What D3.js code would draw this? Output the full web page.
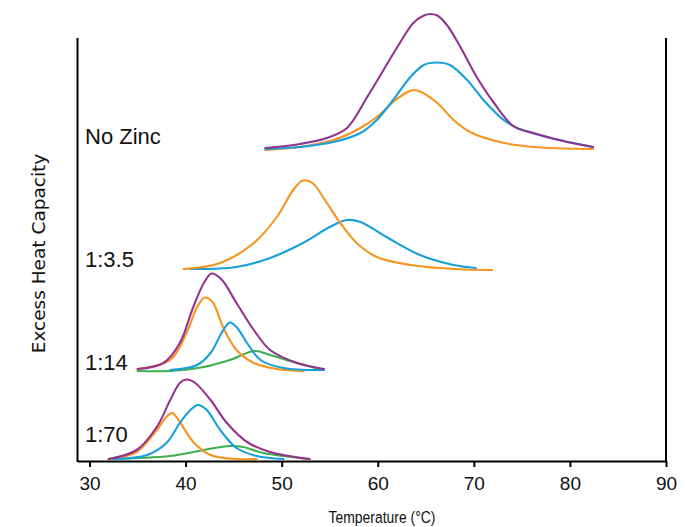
<!DOCTYPE html>
<html><head><meta charset="utf-8">
<script src="https://cdn.jsdelivr.net/npm/d3@7/dist/d3.min.js"></script>
<style>body{margin:0;background:#fff} svg{display:block}</style>
</head><body>
<svg id="chart" width="685" height="527"></svg>
<script>
// ---- data (temperature °C, excess heat capacity in arbitrary stacked units) ----
const xTicks = [30, 40, 50, 60, 70, 80, 90];
const groupLabels = ["No Zinc", "1:3.5", "1:14", "1:70"];
const groupLabelLevels = [317, 194, 91, 19];

const noZincPurple = [[48.3,313],[51.9,317],[54.7,323],[56.8,333],[58.9,364],[60.6,391],[62.3,418],[63.7,438],[64.8,445.5],[65.5,447],[66.2,445.5],[67.2,436],[68.6,414],[70.3,384],[72.1,358],[74.1,335],[76.2,328],[79.7,319],[82.4,314]];
const noZincBlue = [[48.3,312],[51.9,314],[55.4,319],[58.2,328],[59.9,341],[61.6,361],[63.4,384],[64.8,396],[66.1,398.5],[67.5,396],[69.3,381],[71.0,361],[73.1,341],[74.5,333],[78.0,323],[82.4,314]];
const noZincOrange = [[48.3,311],[51.9,314],[55.4,321],[58.2,333],[59.9,344],[61.6,359],[63.0,368.5],[63.7,371],[64.4,369.5],[66.2,358],[67.9,341],[69.6,329],[72.7,319],[76.2,314],[82.4,312]];

const r35Orange = [[39.8,192],[43.6,198],[47.1,218],[49.5,244],[51.2,271],[52.2,280.5],[53.2,278],[54.7,258],[56.1,238],[57.8,218],[59.9,204],[63.4,196],[67.9,192],[71.9,191]];
const r35Blue = [[40.4,192],[45.3,194],[48.8,203],[52.2,218],[55.0,234],[56.8,241],[58.2,239],[60.9,224],[64.4,206],[67.9,196],[70.2,193]];

const r14Purple = [[35.0,92],[37.7,98],[39.4,118],[40.8,154],[41.9,178],[42.7,187.5],[43.7,182],[45.3,158],[47.1,131],[48.8,111],[51.6,98],[54.4,92]];
const r14Orange = [[35.0,92],[38.4,101],[40.1,128],[41.2,154],[42.0,163.5],[42.8,159],[43.9,134],[45.3,111],[47.1,98],[49.5,92],[52.3,90]];
const r14Blue = [[38.4,91],[41.2,96],[42.6,108],[43.8,129],[44.6,138.5],[45.3,134],[46.4,118],[47.8,101],[50.2,93],[54.4,91]];
const r14Green = [[35.0,90],[38.4,90],[41.9,94],[44.6,101],[47.2,110],[48.8,106],[51.6,98],[54.4,91]];

const r70Purple = [[32.0,2],[34.9,11],[37.0,34],[38.4,61],[39.4,78],[40.1,81.5],[41.0,78],[42.6,61],[44.3,38],[46.4,19],[48.8,9],[52.9,2]];
const r70Orange = [[32.0,2],[34.9,9],[37.0,31],[38.0,44],[38.6,48],[39.4,39],[40.8,19],[42.6,6],[45.3,2],[47.4,2]];
const r70Blue = [[32.5,2],[36.0,6],[38.0,18],[39.4,38],[40.5,51],[41.3,56],[42.2,51],[43.6,31],[45.3,13],[47.4,5],[50.2,2]];
const r70Green = [[32.0,2],[38.4,5],[41.9,11],[44.6,15],[46.0,14],[48.1,8],[52.9,2]];

const colors = {purple: "#94348f", blue: "#16a0db", orange: "#f7941e", green: "#3fae4a"};
const curves = [
  {d: noZincOrange, c: "orange"}, {d: noZincBlue, c: "blue"}, {d: noZincPurple, c: "purple"},
  {d: r35Blue, c: "blue"}, {d: r35Orange, c: "orange"},
  {d: r14Green, c: "green"}, {d: r14Orange, c: "orange"}, {d: r14Blue, c: "blue"}, {d: r14Purple, c: "purple"},
  {d: r70Green, c: "green"}, {d: r70Orange, c: "orange"}, {d: r70Blue, c: "blue"}, {d: r70Purple, c: "purple"}
];

// ---- layout ----
const svg = d3.select("#chart");
const mLeft = 77.5, mRight = 666, mTop = 38, mBottom = 461;
const x = d3.scaleLinear().domain([28.75, 90]).range([mLeft, mRight]);
const y = d3.scaleLinear().domain([0, 423]).range([mBottom, mTop]);

const line = d3.line().x(d => x(d[0])).y(d => y(d[1])).curve(d3.curveCatmullRom.alpha(0.5));

svg.append("g").selectAll("path").data(curves).join("path")
  .attr("d", d => line(d.d))
  .attr("fill", "none")
  .attr("stroke", d => colors[d.c])
  .attr("stroke-width", 2.1)
  .attr("stroke-linejoin", "round")
  .attr("stroke-linecap", "round");

// frame: left and right verticals
svg.append("line").attr("x1", mLeft).attr("x2", mLeft).attr("y1", mTop).attr("y2", mBottom + 1)
  .attr("stroke", "#000").attr("stroke-width", 2);
svg.append("line").attr("x1", mRight).attr("x2", mRight).attr("y1", mTop).attr("y2", mBottom + 1)
  .attr("stroke", "#000").attr("stroke-width", 2);

// bottom axis
const xAxis = d3.axisBottom(x).tickValues(xTicks).tickSizeInner(6).tickSizeOuter(0).tickPadding(10);
const gx = svg.append("g").attr("transform", `translate(0,${mBottom})`).call(xAxis);
gx.select(".domain").attr("stroke", "#000").attr("stroke-width", 2);
gx.selectAll(".tick line").attr("stroke", "#000").attr("stroke-width", 2);
gx.selectAll(".tick text").attr("font-family", "'Liberation Sans', Arial, sans-serif")
  .attr("font-size", 19).attr("fill", "#111");

// axis titles
svg.append("text").attr("transform", "translate(382,523) scale(0.82,1)")
  .attr("text-anchor", "middle")
  .attr("font-family", "'Liberation Sans', Arial, sans-serif")
  .attr("font-size", 17).attr("fill", "#111")
  .text("Temperature (°C)");

svg.append("text").attr("transform", `translate(45,${(mTop + mBottom) / 2 + 4}) rotate(-90)`)
  .attr("text-anchor", "middle")
  .attr("font-family", "'DejaVu Sans', sans-serif")
  .attr("font-size", 18.5).attr("fill", "#111")
  .text("Excess Heat Capacity");

// group labels
svg.append("g").selectAll("text").data(groupLabels).join("text")
  .attr("x", 85)
  .attr("y", (d, i) => y(groupLabelLevels[i]))
  .attr("font-family", "'Liberation Sans', Arial, sans-serif")
  .attr("font-size", 22).attr("fill", "#111")
  .text(d => d);
</script>
</body></html>
